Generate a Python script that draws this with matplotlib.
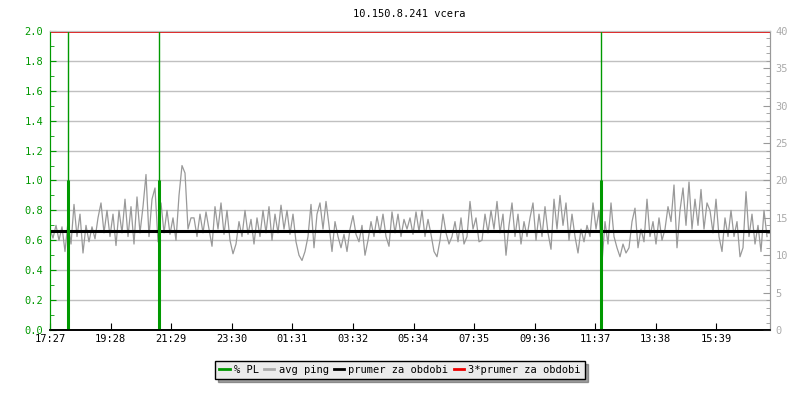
import numpy as np
import matplotlib
matplotlib.use('Agg')
import matplotlib.pyplot as plt
from matplotlib.lines import Line2D

# avg ping [ms], one reading every 6 minutes from 17:27 (right axis)
ping_a = [13.5, 12.3, 14.0, 12.0, 13.8, 10.5, 14.5, 11.5, 16.8, 12.5, 15.5, 10.3,
          14.0, 11.8, 13.8, 12.2, 15.0, 17.0, 13.0, 16.0, 12.5, 15.5, 11.3, 16.0,
          13.0, 17.5, 12.5, 16.5, 11.5, 17.8, 13.0, 16.5, 20.8, 12.5, 17.5, 19.0,
          11.8, 17.0, 13.0, 16.0, 12.8, 15.0, 12.0, 18.0, 22.0, 21.0, 13.5, 15.0]
ping_b = [15.0, 12.5, 15.5, 13.0, 15.8, 13.5, 11.2, 16.5, 13.5, 17.0, 12.8, 16.0,
          12.0, 10.2, 11.5, 14.5, 12.5, 16.0, 12.8, 14.8, 11.5, 15.0, 12.5, 16.0,
          13.0, 16.5, 12.0, 15.5, 13.0, 16.7, 13.5, 16.0, 12.8, 15.5, 11.8, 10.0,
          9.3, 10.5, 12.5, 16.8, 11.0, 15.5, 17.0, 13.5, 17.2, 14.0, 10.5, 14.5]
ping_c = [12.5, 11.0, 12.8, 10.5, 13.5, 15.3, 12.8, 11.8, 14.0, 10.0, 12.0, 14.5,
          12.5, 15.2, 13.0, 15.5, 12.5, 11.2, 15.8, 13.0, 15.5, 12.5, 14.8, 13.5,
          15.0, 12.8, 15.8, 13.2, 16.0, 12.5, 14.8, 12.8, 10.5, 9.8, 12.0, 15.5,
          13.0, 11.5, 12.5, 14.5, 11.8, 15.0, 11.5, 12.5, 17.2, 13.5, 15.0, 11.8]
ping_d = [12.0, 15.5, 13.0, 16.0, 13.5, 17.2, 13.0, 15.5, 10.0, 14.0, 17.0, 12.5,
          15.5, 11.5, 14.5, 12.5, 15.0, 17.0, 12.0, 15.5, 12.5, 16.5, 13.0, 10.8,
          17.5, 13.5, 18.0, 14.0, 17.0, 12.0, 15.5, 12.5, 10.3, 13.5, 11.8, 14.0,
          12.5, 17.0, 13.5, 16.0, 9.0, 14.5, 11.5, 17.0, 12.5, 11.0, 9.8, 11.5]
ping_e = [10.3, 11.0, 14.5, 16.3, 11.0, 13.5, 11.8, 17.5, 12.5, 14.5, 11.5, 15.0,
          12.0, 13.5, 16.5, 14.5, 19.4, 11.0, 16.0, 19.0, 14.0, 19.8, 13.5, 17.5,
          14.0, 18.8, 13.5, 17.0, 16.0, 13.0, 17.5, 12.5, 10.5, 15.0, 12.5, 16.0,
          12.5, 14.5, 9.8, 11.0, 18.5, 12.5, 15.5, 11.5, 14.0, 10.5, 16.0, 12.5]
ping = ping_a + ping_b + ping_c + ping_d + ping_e
ping_min = np.arange(len(ping)) * 6

mean_ping = 13.27

# packet loss events (minutes after 17:27, left axis)
pl_min = [36, 218, 1102]
pl_val = [1.0, 1.0, 1.0]

xtick_min = [0, 121, 242, 363, 484, 605, 727, 848, 969, 1090, 1211, 1332]
xtick_lab = ['17:27', '19:28', '21:29', '23:30', '01:31', '03:32',
             '05:34', '07:35', '09:36', '11:37', '13:38', '15:39']

green = '#009900'
gray = '#999999'
mono = 'DejaVu Sans Mono'
fs = 7.5

fig = plt.figure(figsize=(8, 4), dpi=100)
ax = fig.add_axes([0.0625, 0.175, 0.9, 0.7475])
ax2 = ax.twinx()

ax.set_xlim(0, 1440)
ax.set_ylim(0, 2.0)
ax2.set_ylim(0, 40)

# grid on left scale
ax.set_yticks(np.arange(0, 2.01, 0.2))
ax.set_yticks(np.arange(0, 2.01, 0.1), minor=True)
ax.set_yticklabels(['%.1f' % v for v in np.arange(0, 2.01, 0.2)],
                   fontfamily=mono, fontsize=fs, color=green)
ax.grid(axis='y', color='#c0c0c0', linewidth=1)
ax.set_axisbelow(True)
ax.tick_params(axis='y', which='major', direction='in', length=4, color=green, pad=5)
ax.tick_params(axis='y', which='minor', direction='in', length=3, color=green)

ax.set_xticks(xtick_min)
ax.set_xticklabels(xtick_lab, fontfamily=mono, fontsize=fs)
ax.tick_params(axis='x', direction='in', length=5, color='black', pad=3)

ax2.set_yticks(np.arange(0, 41, 5))
ax2.set_yticks(np.arange(0, 41, 1), minor=True)
ax2.set_yticklabels([str(v) for v in range(0, 41, 5)], fontfamily=mono,
                    fontsize=fs, color='#aaaaaa')
ax2.tick_params(axis='y', which='major', direction='in', length=5, color=gray, pad=4)
ax2.tick_params(axis='y', which='minor', direction='in', length=3, color=gray)

for a in (ax, ax2):
    a.spines['left'].set_color(green)
    a.spines['right'].set_color(gray)
    a.spines['top'].set_color('#c0c0c0')
    a.spines['bottom'].set_color('black')
    a.spines['bottom'].set_linewidth(1.2)

# data
ax2.plot(ping_min, ping, color=gray, linewidth=0.9)
ax2.axhline(mean_ping, color='black', linewidth=2.2)
ax2.axhline(3 * mean_ping, color='#dd0000', linewidth=1.2)
ax2.vlines(pl_min, 0, [2.0] * len(pl_min), color=green, linewidth=1.0,
           transform=ax.transData)
ax2.vlines(pl_min, 0, pl_val, color=green, linewidth=2.2, transform=ax.transData)

fig.text(0.512, 0.965, '10.150.8.241 vcera', ha='center', va='center',
         fontfamily=mono, fontsize=fs)

handles = [Line2D([], [], color=green, linewidth=2),
           Line2D([], [], color='#aaaaaa', linewidth=2),
           Line2D([], [], color='black', linewidth=2),
           Line2D([], [], color='#ee0000', linewidth=2)]
labels = ['% PL', 'avg ping', 'prumer za obdobi', '3*prumer za obdobi']
leg = fig.legend(handles, labels, loc='center', bbox_to_anchor=(0.5, 0.075),
                 ncol=4, frameon=True, fancybox=False, shadow=True,
                 handlelength=1.0, handletextpad=0.4, columnspacing=0.5,
                 borderpad=0.4, prop={'family': mono, 'size': fs})
leg.get_frame().set_facecolor('#ebebeb')
leg.get_frame().set_edgecolor('black')
leg.get_frame().set_alpha(1)

fig.savefig('out.png', dpi=100)
